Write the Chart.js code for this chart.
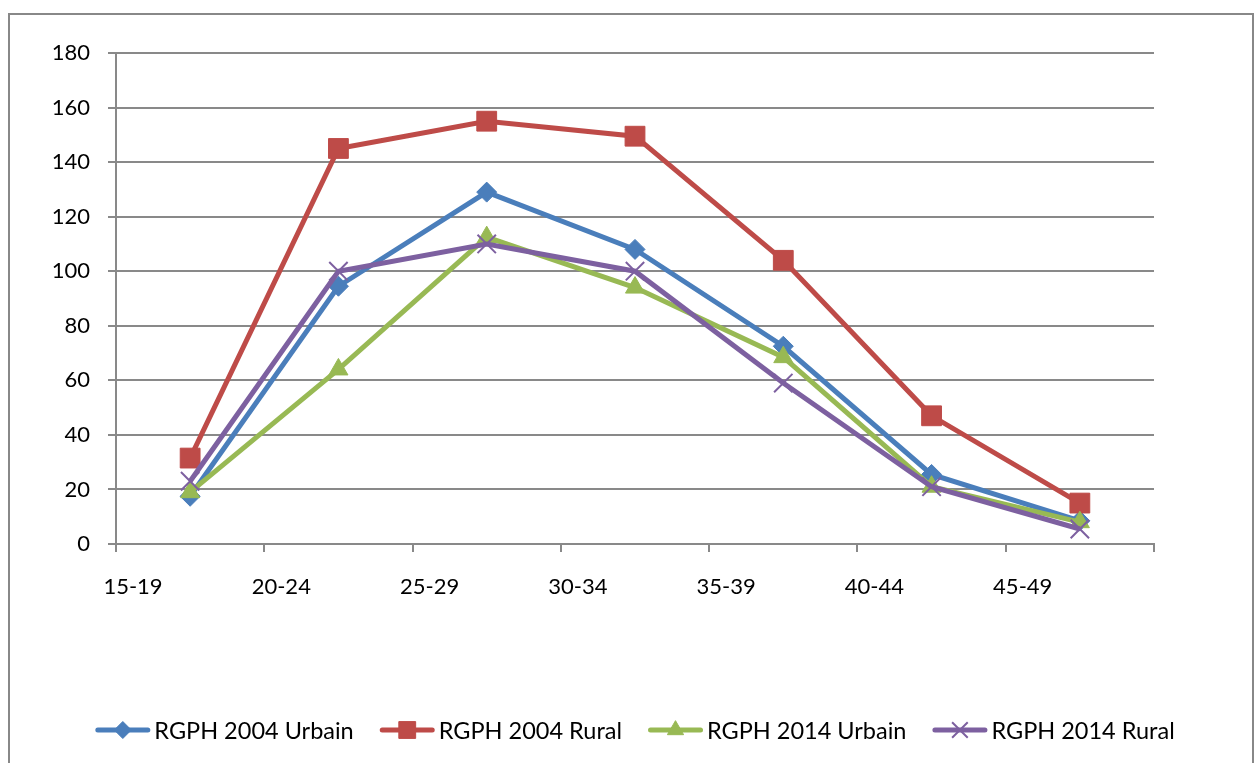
<!DOCTYPE html>
<html><head><meta charset="utf-8">
<script src="https://cdn.jsdelivr.net/npm/chart.js@4/dist/chart.umd.min.js"></script>
<style>html,body{margin:0;padding:0;background:#fff;overflow:hidden}#wrap{width:1255px;height:763px;position:relative}</style>
</head><body><div id="wrap"><canvas id="c" width="1255" height="763"></canvas></div>
<script>
// ---- data ----
const categories = ['15-19', '20-24', '25-29', '30-34', '35-39', '40-44', '45-49'];
const seriesNames = ['RGPH 2004 Urbain', 'RGPH 2004 Rural', 'RGPH 2014 Urbain', 'RGPH 2014 Rural'];
const urbain2004 = [17.5, 94.5, 129, 108, 72.5, 25.5, 8.5];
const rural2004 = [31.5, 145, 155, 149.5, 104, 47, 15];
const urbain2014 = [19, 64, 112.5, 94, 68.5, 21, 8];
const rural2014 = [23, 100, 110, 100, 59, 21, 5.5];
const yTicks = [0, 20, 40, 60, 80, 100, 120, 140, 160, 180];

// ---- styles ----
const colors = ['#4A7EBB', '#BE4B48', '#98B954', '#7D60A0'];
const pointStyles = ['rectRot', 'rect', 'triangle', 'crossRot'];
const pointRadii = [10, 14, 11, 13];
const pointBorders = [1, 1, 1, 2];
const gridColor = '#898989';
const FONT = 'Lato, "Open Sans", sans-serif';

const seriesValues = [urbain2004, rural2004, urbain2014, rural2014];
const datasets = seriesValues.map((vals, s) => ({
  label: seriesNames[s],
  data: vals.map((v, i) => ({ x: i + 0.5, y: v })),
  borderColor: colors[s],
  backgroundColor: colors[s],
  borderWidth: 5,
  tension: 0,
  pointStyle: pointStyles[s],
  pointRadius: pointRadii[s],
  pointHoverRadius: pointRadii[s],
  pointBackgroundColor: colors[s],
  pointBorderColor: colors[s],
  pointBorderWidth: pointBorders[s],
  order: 4 - s,
  clip: false
}));

const framePlugin = {
  id: 'frame',
  beforeDraw(chart) {
    const ctx = chart.ctx;
    ctx.save();
    ctx.fillStyle = '#fff';
    ctx.fillRect(0, 0, chart.width, chart.height);
    ctx.strokeStyle = '#888888';
    ctx.lineWidth = 2;
    ctx.strokeRect(9, 14, 1244, 800);
    ctx.restore();
  }
};

const legendPlugin = {
  id: 'xlLegend',
  afterDraw(chart) {
    const ctx = chart.ctx;
    const ds = chart.data.datasets;
    ctx.save();
    ctx.font = '23.5px ' + FONT;
    const lineW = 55, gapT = 4, gapItem = 26;
    const widths = ds.map(d => ctx.measureText(d.label).width);
    const total = widths.reduce((a, b) => a + b, 0) + ds.length * (lineW + gapT) + (ds.length - 1) * gapItem;
    let x = 635 - total / 2;
    const y = 730;
    ds.forEach((d, i) => {
      ctx.strokeStyle = d.borderColor;
      ctx.lineWidth = 5;
      ctx.lineCap = 'round';
      ctx.beginPath();
      ctx.moveTo(x + 2.5, y);
      ctx.lineTo(x + lineW - 2.5, y);
      ctx.stroke();
      ctx.lineCap = 'butt';
      ctx.fillStyle = d.pointBackgroundColor;
      ctx.strokeStyle = d.pointBorderColor;
      ctx.lineWidth = d.pointBorderWidth;
      Chart.helpers.drawPoint(ctx, { pointStyle: d.pointStyle, radius: d.pointRadius * 0.85, borderWidth: d.pointBorderWidth, rotation: 0 }, x + lineW / 2, y);
      ctx.fillStyle = '#000';
      ctx.textBaseline = 'middle';
      ctx.textAlign = 'left';
      ctx.fillText(d.label, x + lineW + gapT, y + 1);
      x += lineW + gapT + widths[i] + gapItem;
    });
    ctx.restore();
  }
};

function draw() {
  new Chart(document.getElementById('c'), {
    type: 'line',
    data: { datasets },
    plugins: [framePlugin, legendPlugin],
    options: {
      responsive: false,
      animation: false,
      devicePixelRatio: 1,
      layout: { padding: { top: 53, right: 101, left: 0, bottom: 0 } },
      plugins: { legend: { display: false }, tooltip: { enabled: false } },
      scales: {
        x: {
          type: 'linear',
          min: 0,
          max: categories.length,
          afterFit(s) { s.height = 219; },
          afterBuildTicks(s) { s.ticks = categories.concat(['']).map((c, i) => ({ value: i })); },
          ticks: {
            stepSize: 1,
            autoSkip: false,
            maxRotation: 0,
            labelOffset: 17,
            padding: 22,
            color: '#000',
            font: { family: FONT, size: 22 },
            callback: (v) => (categories[v] !== undefined ? categories[v] : '')
          },
          grid: { drawOnChartArea: false, drawTicks: true, tickLength: 8, color: gridColor, lineWidth: 2 },
          border: { color: gridColor, width: 2 }
        },
        y: {
          min: yTicks[0],
          max: yTicks[yTicks.length - 1],
          afterFit(s) { s.width = 116; },
          afterBuildTicks(s) { s.ticks = yTicks.map(v => ({ value: v })); },
          ticks: { padding: 18, color: '#000', font: { family: FONT, size: 22 } },
          grid: { color: gridColor, lineWidth: 2, tickLength: 8 },
          border: { color: gridColor, width: 2 }
        }
      }
    }
  });
}
if (document.fonts && document.fonts.load) {
  Promise.all([document.fonts.load('22px Lato'), document.fonts.load('24px Lato')]).then(draw, draw);
} else { draw(); }
</script>
</body></html>
